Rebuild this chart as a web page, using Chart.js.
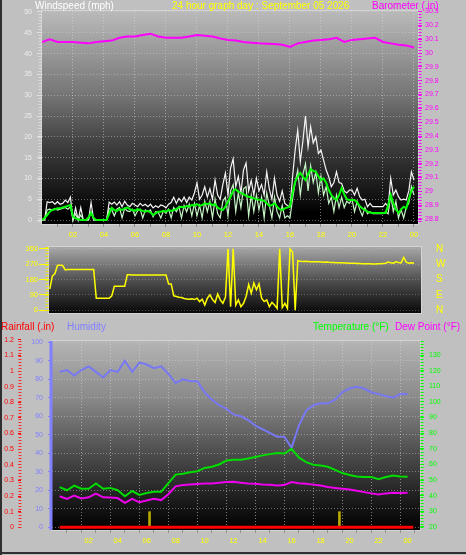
<!DOCTYPE html>
<html>
<head>
<meta charset="utf-8">
<script src="https://cdn.jsdelivr.net/npm/chart.js@4.4.0/dist/chart.umd.min.js"></script>
<style>
  body { margin:0; background:#c0c0c0; }
  #wrap { position:relative; width:466px; height:555px; background:#c0c0c0; overflow:hidden; font-family:"Liberation Sans", Arial, sans-serif; }
  canvas { position:absolute; left:0; }
  .lbl { position:absolute; font-size:10px; line-height:10px; white-space:nowrap; }
  #frameL { position:absolute; left:0; top:0; width:2px; height:555px; background:#303030; }
  #frameB { position:absolute; left:0; top:552px; width:466px; height:2px; background:#303030; }
</style>
</head>
<body>
<div id="wrap">
  <canvas id="windChart" width="466" height="242" style="top:0px"></canvas>
  <canvas id="dirChart" width="466" height="80" style="top:240px"></canvas>
  <canvas id="climateChart" width="466" height="222" style="top:330px"></canvas>

  <div class="lbl" style="left:35px;top:1px;color:#ffffff">Windspeed (mph)</div>
  <div class="lbl" style="left:172px;top:1px;color:#ffff00">24 hour graph day : September 05 2026</div>
  <div class="lbl" style="left:372px;top:1px;color:#ff00ff">Barometer (.in)</div>

  <div class="lbl" style="left:1px;top:322px;color:#ff0000">Rainfall (.in)</div>
  <div class="lbl" style="left:67px;top:322px;color:#8080ff">Humidity</div>
  <div class="lbl" style="left:313px;top:322px;color:#00ff00">Temperature (°F)</div>
  <div class="lbl" style="left:395px;top:322px;color:#ff00ff">Dew Point (°F)</div>

  <div id="frameL"></div>
  <div id="frameB"></div>
</div>
<script>
// ---- data ----
// hours on the time axis
var xTickHours = [1,2,3,4,5,6,7,8,9,10,11,12,13,14,15,16,17,18,19,20,21,22,23,24];
var xTickLabels = ['','02','','04','','06','','08','','10','','12','','14','','16','','18','','20','','22','','00'];

// wind, every 10 minutes from 00:00
var windStep = 1/6;
var gust = [0,0,4.4,4.2,4.4,3.8, 4.4,3.8,4.0,4.8,4.2,5.5, 0,2.9,0,3.0,0,0, 0,4.2,0,0,0,0,
  0,0,4.3,3.8,4.3,3.6, 4.4,3.2,4.5,3.6,3.2,4.0, 3.6,3.2,4.0,3.4,3.8,3.2, 3.8,2.9,3.4,3.0,3.6,3.4,
  2.9,3.8,4.2,5.5,4.0,5.2, 4.4,5.5,4.2,5.5,4.8,6.5, 8.9,5.0,6.0,8.0,5.5,7.5, 5.0,9.6,6.0,5.0,8.5,11.3,
  6.0,12.5,14.7,8.0,10.5,6.5, 12.0,13.7,7.0,9.5,6.0,10.0, 7.0,8.5,6.0,11.6,7.5,5.0, 10.0,6.0,4.5,7.0,4.0,3.5,
  3.2,10.4,16.8,21.6,14.0,19.0, 25.0,17.6,22.4,18.5,20.0,16.0, 16.8,14.4,12.0,10.4,8.0,9.0, 11.6,9.0,8.8,7.0,6.5,7.2,
  7.2,6.0,7.6,5.6,4.8,5.0, 3.2,4.0,3.2,3.2,3.2,3.2, 3.2,4.0,3.2,10.0,6.0,7.2, 5.6,4.8,5.0,4.8,7.0,11.6, 9.6];
var wind = [0,0,2.4,2.6,2.4,2.8, 2.4,2.6,2.8,3.0,2.6,3.2, 0,1.5,0,1.2,0,0, 0,2.0,0,0,0,0,
  0,0,2.8,2.4,1.0,2.6, 3.0,0.5,2.8,2.2,2.0,2.6, 1.0,2.2,2.6,0.5,2.4,2.0, 2.4,0.8,2.0,1.8,0.5,2.2,
  1.6,2.6,0.5,3.0,2.0,3.2, 0.5,3.5,2.0,3.8,1.0,4.0, 1.0,3.5,0.5,4.5,2.0,4.5, 0.5,5.0,1.5,0.5,4.5,5.5,
  1.0,7.0,8.5,2.0,6.5,3.0, 7.5,8.0,1.0,6.0,2.0,6.0, 2.5,5.5,0.5,6.5,3.5,0.5, 5.5,2.0,0.5,3.5,0.5,1.0,
  0.5,5.0,9.0,12.0,6.0,11.0, 13.5,7.0,13.0,9.0,11.5,6.5, 10.5,6.0,8.0,4.0,5.5,2.0, 6.0,3.0,5.5,3.0,4.5,4.0,
  5.0,2.0,4.5,2.5,1.0,3.0, 1.5,2.0,1.5,1.5,1.5,1.5, 1.5,2.0,1.5,6.0,2.0,4.5, 0.5,2.5,0.5,3.0,4.0,8.0, 6.0];
var windAvg = [0,0.5,1.2,2.0,2.4,2.6, 2.8,2.8,3.0,3.2,3.4,3.6, 0.8,0.4,0.2,0,0,0, 0.6,1.7,0.5,0,0,0,
  0,0,1.5,2.9,2.4,2.2, 2.6,2.4,2.8,3.0,2.6,2.4, 2.2,2.6,2.4,2.2,2.0,2.2, 1.8,1.2,1.6,2.0,2.0,2.2,
  2.0,2.4,2.2,2.4,2.6,3.0, 3.2,3.0,3.4,3.2,3.6,3.5, 3.8,3.4,3.6,4.0,3.8,4.0, 3.6,3.8,3.0,2.6,2.4,3.2,
  4.4,5.6,7.0,7.4,6.8,6.5, 6.2,5.8,5.6,5.4,5.2,5.0, 4.9,4.8,4.6,4.0,3.4,3.6, 4.0,3.2,2.6,2.4,2.8,3.0,
  3.2,6.5,9.2,10.5,11.3,10.4, 9.6,11.0,12.2,11.8,11.6,10.5, 9.6,10.0,9.0,7.2,6.0,5.3, 4.8,6.0,7.7,6.2,5.0,4.8,
  4.8,4.8,4.2,3.4,2.8,2.4, 2.0,1.8,1.7,1.7,1.7,1.7, 1.7,1.7,3.5,6.0,4.0,2.5, 1.7,2.5,3.2,2.8,5.0,7.0, 8.0];
var windTicks = [0,5,10,15,20,25,30,35,40,45,50];

// barometer, every 30 minutes
var baroStep = 0.5;
var baro = [30.08,30.10,30.08,30.08,30.08,30.075,30.07,30.08,30.085,30.09,30.11,30.12,30.12,30.13,30.14,30.12,
  30.11,30.11,30.11,30.12,30.13,30.125,30.12,30.105,30.095,30.09,30.08,30.075,30.07,30.068,30.065,30.06,
  30.045,30.07,30.08,30.09,30.095,30.10,30.11,30.08,30.095,30.10,30.105,30.11,30.08,30.07,30.06,30.055,30.04];
var baroTicks = [28.8,28.9,29,29.1,29.2,29.3,29.4,29.5,29.6,29.7,29.8,29.9,30,30.1,30.2,30.3];

// wind direction, every 10 minutes from 00:00
var dirStep = 1/6;
var windDir = [null,null,null,124,200,215, 264,264,262,236,238,238, 238,238,238,238,238,238, 238,238,238,69,69,69,
  69,69,69,84,140,140, 140,140,140,208,208,206, 206,206,206,206,206,206, 206,206,206,206,206,206,
  206,154,154,84,80,76, 74,68,66,64,66,62, 70,50,64,30,70,90, 62,45,95,60,40,75,
  360,20,360,30,60,20, 40,80,150,100,160,120, 155,70,50,60,20,45, 30,10,360,15,40,10,
  360,340,0,290,287,286, 287,286,285,285,284,284, 283,282,283,281,280,280, 279,279,278,277,277,276,
  276,275,274,274,273,272, 272,272,271,271,272,272, 274,276,282,278,276,284, 280,278,310,282,276,278, 275];
var dirTicks = [0,90,180,270,360];
var dirNames = {0:'N',90:'E',180:'S',270:'W',360:'N'};

// humidity, temperature, dew point, every 30 minutes
var climateStep = 0.5;
var humidity = [84,85,82,85,87,84,81,85,84,90,84,89,88,86,87,83,78,80,79,79,73,69,66,64,
  61,60,58,55,53,51,49,49,43,55,63,66,67,67,69,73,75,76,75,73,72,71,70,72,72];
var temperature = [45.5,43.5,46.5,44.5,44.5,47.8,44.5,45,43.5,39.7,43,40.5,41.8,42.5,42.5,48,53.5,54,55,55.7,57.8,58.5,60,62.5,
  63,63,63.8,64.8,65.8,66.6,67.3,67,70,64.5,61.5,59.8,59.3,58.5,56.5,54.5,53.3,52.3,51.9,51.9,50.5,52,53,52.3,52.1];
var dewPoint = [39.7,38,40.1,38.3,39,41.4,39,38.8,38.5,35.5,38,35.8,37,38,37.2,41,46,46.8,47.2,47.5,47.8,47.8,48.3,48.8,
  49,48.3,47.8,47.6,47.2,47,46.5,46.8,48.7,48,47.6,47.1,46.5,45.6,45,44.5,44,43.2,42.3,41.5,40.8,41.5,41.9,41.7,41.9];
var rainHours = [0, 24.4];
var rainfall = [0, 0];
var markHours = [6.2, 19.3];
var markValues = [0.1, 0.1];
var humTicks = [0,10,20,30,40,50,60,70,80,90,100];
var rainTicks = [0,0.1,0.2,0.3,0.4,0.5,0.6,0.7,0.8,0.9,1,1.1,1.2];
var tempTicks = [20,30,40,50,60,70,80,90,100,110,120,130];

// ---- helpers ----
Chart.defaults.font.family = '"Liberation Sans", Arial, sans-serif';
Chart.defaults.animation = false;

function pts(arr, step) { return arr.map(function(v, i){ return {x: i*step, y: v}; }); }
function fixTicks(list) { return function(s){ s.ticks = list.map(function(v){ return {value: v}; }); }; }
function fixW(w) { return function(s){ s.width = w; }; }
function fixH(h) { return function(s){ s.height = h; }; }

function bgPlugin(stops) {
  return { id: 'bg', beforeDraw: function(chart) {
    var a = chart.chartArea, ctx = chart.ctx;
    var g = ctx.createLinearGradient(0, a.top, 0, a.bottom);
    stops.forEach(function(s){ g.addColorStop(s[0], s[1]); });
    ctx.save();
    ctx.fillStyle = g;
    ctx.fillRect(a.left, a.top, a.right - a.left, a.bottom - a.top);
    ctx.strokeStyle = '#d4d4d4';
    ctx.lineWidth = 1;
    ctx.strokeRect(a.left - 0.5, a.top - 0.5, a.right - a.left + 1, a.bottom - a.top + 1);
    ctx.restore();
  }};
}

// dotted axis columns like the original
function axisDeco(list) {
  return { id: 'axisDeco', afterDraw: function(chart) {
    var ctx = chart.ctx, a = chart.chartArea;
    list.forEach(function(d){
      var s = chart.scales[d.id];
      var x = s.position === 'left' ? s.right - d.off : s.left + d.off;
      ctx.save();
      ctx.strokeStyle = d.color; ctx.lineWidth = d.w; ctx.setLineDash(d.dash || []);
      ctx.beginPath(); ctx.moveTo(x, a.top); ctx.lineTo(x, a.bottom); ctx.stroke();
      ctx.restore();
    });
  }};
}

function hourAxis(min, max, h) {
  return {
    type: 'linear', min: min, max: max,
    afterBuildTicks: fixTicks(xTickHours), afterFit: fixH(h),
    ticks: { color: '#ffff00', font: {size: 7.5}, padding: 3, maxRotation: 0, autoSkip: false,
      callback: function(v, i){ return xTickLabels[i]; } },
    grid: { color: function(c){ return c.tick && c.tick.value % 2 === 0 ? 'rgba(215,215,215,0.55)' : 'rgba(0,0,0,0)'; },
      tickColor: '#909090', tickLength: 3 },
    border: { display: false, dash: [1, 2] }
  };
}

var noPlugins = { legend: {display: false}, tooltip: {enabled: false} };

//-------------
//- WIND + BAROMETER -
//-------------
new Chart(document.getElementById('windChart').getContext('2d'), {
  type: 'line',
  data: { datasets: [
    { data: pts(baro, baroStep), yAxisID: 'yb', borderColor: '#ff00ff', borderWidth: 2, order: 0 },
    { data: pts(windAvg, windStep), yAxisID: 'y', borderColor: '#00ff00', borderWidth: 2, order: 1 },
    { data: pts(wind, windStep), yAxisID: 'y', borderColor: '#c4f4c4', borderWidth: 1.2, order: 2 },
    { data: pts(gust, windStep), yAxisID: 'y', borderColor: '#f4f4f4', borderWidth: 1.2, order: 3 }
  ]},
  options: {
    responsive: false,
    layout: { padding: { top: 11, left: 0, right: 0, bottom: 0 } },
    elements: { point: { radius: 0 }, line: { tension: 0 } },
    plugins: noPlugins,
    scales: {
      x: hourAxis(0, 24.26, 18),
      y: { position: 'left', min: -0.96, max: 50.24, afterBuildTicks: fixTicks(windTicks), afterFit: fixW(42),
        ticks: { color: '#ececec', font: {size: 7}, padding: 5 },
        grid: { color: 'rgba(215,215,215,0.45)', tickColor: '#e4e4e4', tickLength: 5 },
        border: { display: false, dash: [1, 2] } },
      yb: { position: 'right', min: 28.764, max: 30.304, afterBuildTicks: fixTicks(baroTicks), afterFit: fixW(48),
        ticks: { color: '#ff00ff', font: {size: 7}, padding: 3, callback: function(v){ return String(v); } },
        grid: { drawOnChartArea: false, tickColor: '#ff00ff', tickLength: 4 },
        border: { display: false } }
    }
  },
  plugins: [
    bgPlugin([[0, '#bababa'], [0.4, '#747474'], [0.65, '#3a3a3a'], [0.85, '#161616'], [0.95, '#000000'], [1, '#000000']]),
    axisDeco([{id: 'y', off: 2, color: '#dcdcdc', w: 3, dash: [1, 2]}, {id: 'yb', off: 2, color: '#ff00ff', w: 3, dash: [1, 2]}])
  ]
});

//-------------
//- WIND DIRECTION -
//-------------
new Chart(document.getElementById('dirChart').getContext('2d'), {
  type: 'line',
  data: { datasets: [
    { data: pts(windDir, dirStep), yAxisID: 'y', borderColor: '#ffff00', borderWidth: 1.5 }
  ]},
  options: {
    responsive: false,
    layout: { padding: { top: 4, left: 0, right: 0, bottom: 7 } },
    elements: { point: { radius: 0 }, line: { tension: 0 } },
    plugins: noPlugins,
    scales: {
      x: { type: 'linear', min: 0.45, max: 24.45, display: false },
      y: { position: 'left', min: -17, max: 371, afterBuildTicks: fixTicks(dirTicks), afterFit: fixW(49),
        ticks: { color: '#ffff00', font: {size: 7.5}, padding: 1, autoSkip: false },
        grid: { color: 'rgba(200,200,200,0.35)', tickColor: '#ffff00', tickLength: 10 },
        border: { display: false, dash: [1, 2] } },
      yn: { position: 'right', min: -17, max: 371, afterBuildTicks: fixTicks(dirTicks), afterFit: fixW(45),
        ticks: { color: '#ffff00', font: {size: 10}, padding: 1, autoSkip: false,
          callback: function(v){ return dirNames[v]; } },
        grid: { drawOnChartArea: false, tickColor: 'rgba(0,0,0,0)', tickLength: 14 },
        border: { display: false } }
    }
  },
  plugins: [
    bgPlugin([[0, '#a8a8a8'], [0.5, '#505050'], [1, '#080808']]),
    axisDeco([{id: 'y', off: 2, color: '#e8e800', w: 3, dash: [1, 2]}])
  ]
});

//-------------
//- RAIN / HUMIDITY / TEMPERATURE -
//-------------
new Chart(document.getElementById('climateChart').getContext('2d'), {
  type: 'line',
  data: { datasets: [
    { data: rainHours.map(function(h, i){ return {x: h, y: rainfall[i]}; }), yAxisID: 'yr', borderColor: '#ff0000', borderWidth: 3, order: 0 },
    { data: pts(temperature, climateStep), yAxisID: 'yt', borderColor: '#00dd00', borderWidth: 2, order: 1 },
    { data: pts(dewPoint, climateStep), yAxisID: 'yt', borderColor: '#ee00ee', borderWidth: 2, order: 2 },
    { data: pts(humidity, climateStep), yAxisID: 'yh', borderColor: '#7878f4', borderWidth: 2, order: 3 },
    { type: 'bar', data: markHours.map(function(h, i){ return {x: h, y: markValues[i]}; }), yAxisID: 'yr',
      backgroundColor: '#b8a800', barThickness: 2, order: 4 }
  ]},
  options: {
    responsive: false,
    layout: { padding: { top: 11, left: 0, right: 0, bottom: 0 } },
    elements: { point: { radius: 0 }, line: { tension: 0 } },
    plugins: noPlugins,
    scales: {
      x: hourAxis(0, 24.33, 22),
      yh: { position: 'left', weight: 0, min: -1.46, max: 100.7, afterBuildTicks: fixTicks(humTicks), afterFit: fixW(31),
        ticks: { color: '#8080ff', font: {size: 7}, padding: 5 },
        grid: { color: 'rgba(215,215,215,0.45)', tickColor: '#8080ff', tickLength: 4 },
        border: { display: false, dash: [1, 2] } },
      yr: { position: 'left', weight: 1, min: -0.0173, max: 1.192, afterBuildTicks: fixTicks(rainTicks), afterFit: fixW(21),
        ticks: { color: '#ff0000', font: {size: 7}, padding: 4, callback: function(v){ return String(v); } },
        grid: { drawOnChartArea: false, tickColor: '#ff0000', tickLength: 3 },
        border: { display: false } },
      yt: { position: 'right', min: 18.08, max: 138.96, afterBuildTicks: fixTicks(tempTicks), afterFit: fixW(46),
        ticks: { color: '#00ff00', font: {size: 7}, padding: 5 },
        grid: { drawOnChartArea: false, tickColor: '#00ff00', tickLength: 4 },
        border: { display: false } }
    }
  },
  plugins: [
    bgPlugin([[0, '#b4b4b4'], [0.3, '#8a8a8a'], [0.58, '#505050'], [0.85, '#1a1a1a'], [1, '#000000']]),
    axisDeco([{id: 'yh', off: 1, color: '#8080ff', w: 3}, {id: 'yr', off: 1, color: '#ff3030', w: 3, dash: [1, 2]},
      {id: 'yt', off: 2, color: '#00ff00', w: 3, dash: [1, 2]}])
  ]
});
</script>
</body>
</html>
